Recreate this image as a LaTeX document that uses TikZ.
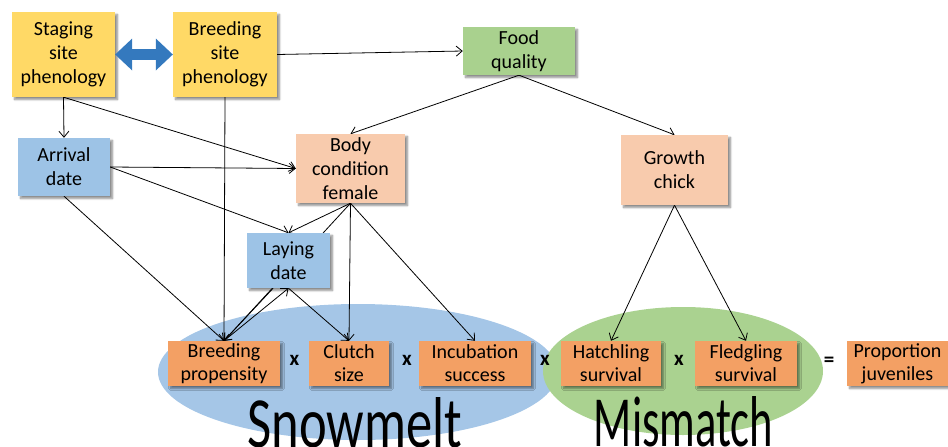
\documentclass[tikz,border=0pt]{standalone}
\usepackage{fontspec}
\usepackage{graphicx}
\setmainfont{Carlito}
\usetikzlibrary{arrows.meta,shadows.blur,shapes.geometric}
\pgfdeclarelayer{lines}
\pgfdeclarelayer{front}
\pgfsetlayers{main,lines,front}
\definecolor{siteyel}{HTML}{FFD966}
\definecolor{foodgreen}{HTML}{A9D18E}
\definecolor{condpeach}{HTML}{F8CBAD}
\definecolor{dateblue}{HTML}{9DC3E6}
\definecolor{rateorange}{HTML}{F3A064}
\definecolor{snowblue}{HTML}{A5C6E7}
\definecolor{mismgreen}{HTML}{AAD290}
\definecolor{arrblue}{HTML}{3479BE}
\begin{document}
\begin{tikzpicture}
  [x=1pt,y=-1pt,
   box/.style={rectangle,align=center,inner sep=0pt,
     font=\fontsize{20}{24}\selectfont,
     blur shadow={shadow xshift=2.5pt,shadow yshift=-2.5pt,shadow blur steps=6,shadow opacity=45}},
   rate/.style={box,fill=rateorange,minimum height=45pt,font=\fontsize{20}{23}\selectfont},
   zone/.style={ellipse,inner sep=0pt},
   op/.style={font=\fontsize{21}{21}\selectfont\bfseries},
   link/.style={-{Straight Barb[length=6pt,width=10pt]},line width=0.8pt}]
  \useasboundingbox (0,0) rectangle (948,447);

  % zones
  \node[zone,fill=snowblue,minimum width=400pt,minimum height=136pt] (snowzone) at (358,372) {};
  \node[zone,fill=mismgreen,minimum width=280pt,minimum height=128pt] (mismzone) at (683,371) {};

  \begin{pgfonlayer}{front}
  \node[anchor=base,inner sep=0pt] (snow) at (355,447) {\fontsize{72}{72}\selectfont\scalebox{0.73}[1]{Snowmelt}};
  \node[anchor=base,inner sep=0pt] (mism) at (683.5,446) {\fontsize{72}{72}\selectfont\scalebox{0.62}[1]{Mismatch}};

  % top
  \node[box,fill=siteyel,minimum width=103pt,minimum height=85pt] (stage) at (63.5,54.5) {Staging\\site\\phenology};
  \node[box,fill=siteyel,minimum width=104pt,minimum height=85pt] (bsite) at (225,54.5) {Breeding\\site\\phenology};
  \node[box,fill=foodgreen,minimum width=112pt,minimum height=48pt] (food) at (519,51) {Food\\quality};

  % middle
  \node[box,fill=dateblue,minimum width=92pt,minimum height=58pt] (arrival) at (64,167) {Arrival\\date};
  \node[box,fill=condpeach,minimum width=109pt,minimum height=69pt] (body) at (350.5,168.5) {Body\\condition\\female};
  \node[box,fill=condpeach,minimum width=107pt,minimum height=70pt] (growth) at (674.5,170) {Growth\\chick};
  \node[box,fill=dateblue,minimum width=83pt,minimum height=55pt] (laying) at (288.5,260.5) {Laying\\date};

  % bottom row
  \node[rate,minimum width=112pt] (prop) at (224,363.5) {Breeding\\propensity};
  \node[rate,minimum width=80pt] (clutch) at (349,363.5) {Clutch\\size};
  \node[rate,minimum width=112pt] (incub) at (475,363.5) {Incubation\\success};
  \node[rate,minimum width=100pt] (hatch) at (611,363.5) {Hatchling\\survival};
  \node[rate,minimum width=102pt] (fledge) at (746,363.5) {Fledgling\\survival};
  \node[rate,minimum width=101pt] (juv) at (897.5,363.5) {Proportion\\juveniles};
  \node[op] (x1) at (294.5,360) {x};
  \node[op] (x2) at (407,360) {x};
  \node[op] (x3) at (545,360) {x};
  \node[op] (x4) at (679,360) {x};
  \node[op] (eq) at (829,362) {=};

  \draw[arrblue,line width=11pt,
    {Triangle[length=17pt,width=32pt,line width=0pt]}-{Triangle[length=17pt,width=32pt,line width=0pt]}]
    (stage.east) -- (bsite.west);
  \end{pgfonlayer}

  \begin{pgfonlayer}{lines}
  \foreach \from/\to in {stage.south/arrival.north, stage.south/body.west,
      bsite.east/food.west, bsite.south/prop.north,
      food.south/body.north, food.south/growth.north,
      arrival.east/body.west, arrival.east/laying.north, arrival.south/prop.north,
      body.south/laying.north, body.south/prop.north, body.south/clutch.north, body.south/incub.north,
      laying.241/prop.north, prop.north/laying.south, laying.south/clutch.north,
      growth.south/hatch.north, growth.south/fledge.north}
    \draw[link] (\from) -- (\to);
  \end{pgfonlayer}
\end{tikzpicture}
\end{document}
